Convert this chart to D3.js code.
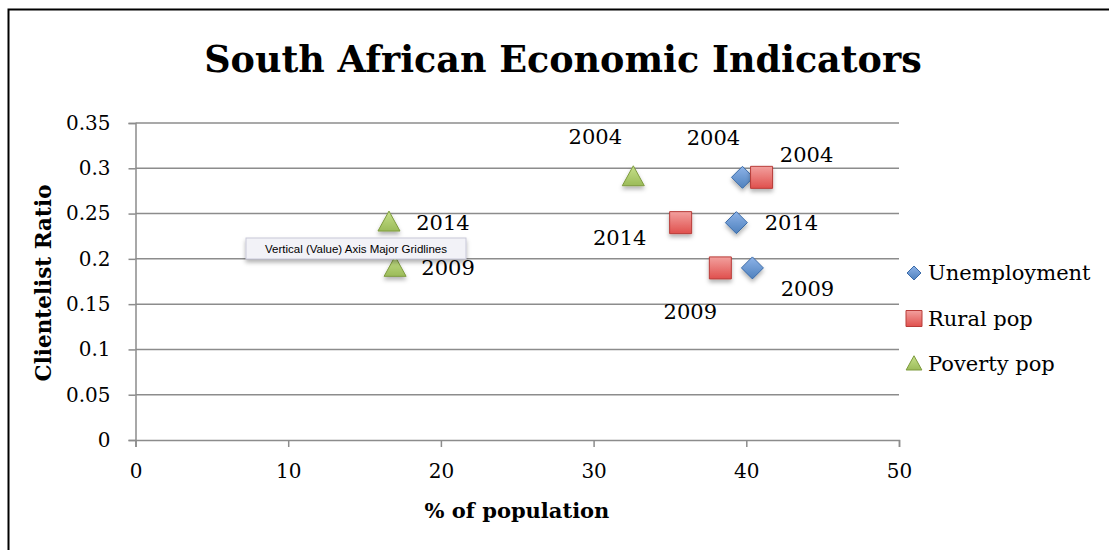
<!DOCTYPE html>
<html>
<head>
<meta charset="utf-8">
<script src="https://cdn.jsdelivr.net/npm/d3@7"></script>
<style>
  body { margin: 0; background: #fff; }
  svg { display: block; font-family: 'DejaVu Serif', serif; }
</style>
</head>
<body>
<div id="chart"></div>
<script>
// data
const years = ['2004', '2014', '2009']
const unemployment = [39.75, 39.35, 40.4]
const ruralPop = [41.0, 35.7, 38.3]
const povertyPop = [32.6, 16.6, 17.0]
const clientelistRatio = [0.29, 0.24, 0.19]
const seriesNames = ['Unemployment', 'Rural pop', 'Poverty pop']
const xTicks = [0, 10, 20, 30, 40, 50]
const yTicks = [0, 0.05, 0.1, 0.15, 0.2, 0.25, 0.3, 0.35]

// where each data label sits relative to its marker (dx, dy)
const labelOffsets = [
  [[-29, -40], [55, 0], [55, 21]],
  [[45, -23], [-61, 15], [-30, 44]],
  [[-38, -41], [54, 0], [53, 0]]
]

const W = 1109, H = 550
const plot = {left: 135.5, right: 899, top: 123, bottom: 440}
const colors = [
  {fill: '#4f81bd', light: '#8db3e8', stroke: '#3a6aa8'},
  {fill: '#e0504d', light: '#f2a09e', stroke: '#b83c39'},
  {fill: '#9bbb59', light: '#c6e08a', stroke: '#7e9b3e'}
]
const shapes = ['diamond', 'square', 'triangle']

const svg = d3.select('#chart').append('svg')
  .attr('width', W).attr('height', H)

const defs = svg.append('defs')
colors.forEach((c, i) => {
  const g = defs.append('linearGradient').attr('id', 'grad' + i)
    .attr('x1', 0).attr('y1', 0).attr('x2', 0).attr('y2', 1)
  g.append('stop').attr('offset', '0%').attr('stop-color', c.light)
  g.append('stop').attr('offset', '100%').attr('stop-color', c.fill)
})
const shadow = defs.append('filter').attr('id', 'shadow')
  .attr('x', '-50%').attr('y', '-50%').attr('width', '200%').attr('height', '200%')
shadow.append('feDropShadow').attr('dx', 0).attr('dy', 3).attr('stdDeviation', 2)
  .attr('flood-color', '#000').attr('flood-opacity', 0.3)

// frame
svg.append('path')
  .attr('d', `M8.5,${H} V9.5 H${W}`)
  .attr('fill', 'none').attr('stroke', '#000').attr('stroke-width', 2)

svg.append('text')
  .attr('x', 563).attr('y', 72)
  .attr('text-anchor', 'middle')
  .attr('font-size', 36.5).attr('font-weight', 'bold')
  .text('South African Economic Indicators')

const x = d3.scaleLinear().domain([0, 50]).range([plot.left, plot.right])
const y = d3.scaleLinear().domain([0, 0.35]).range([plot.bottom, plot.top])

// gridlines
svg.append('g').selectAll('line').data(yTicks.slice(1)).join('line')
  .attr('x1', plot.left).attr('x2', plot.right)
  .attr('y1', d => y(d)).attr('y2', d => y(d))
  .attr('stroke', '#8c8c8c').attr('stroke-width', 1.5)

const yAxis = svg.append('g')
  .attr('transform', `translate(${plot.left},0)`)
  .call(d3.axisLeft(y).tickValues(yTicks).tickFormat(d => String(d)).tickSize(7).tickPadding(18))
const xAxis = svg.append('g')
  .attr('transform', `translate(0,${plot.bottom})`)
  .call(d3.axisBottom(x).tickValues(xTicks).tickSize(7).tickPadding(17))
;[xAxis, yAxis].forEach(a => {
  a.select('.domain').attr('stroke', '#8c8c8c').attr('stroke-width', 1.5)
  a.selectAll('.tick line').attr('stroke', '#8c8c8c').attr('stroke-width', 1.5)
  a.selectAll('text').attr('font-size', 20).attr('font-family', 'DejaVu Serif').attr('fill', '#000')
})

svg.append('text')
  .attr('transform', 'translate(51,283) rotate(-90)')
  .attr('text-anchor', 'middle')
  .attr('font-size', 21.5).attr('font-weight', 'bold')
  .text('Clientelist Ratio')

svg.append('text')
  .attr('x', 517).attr('y', 518)
  .attr('text-anchor', 'middle')
  .attr('font-size', 21).attr('font-weight', 'bold')
  .text('% of population')

function markerPath(shape, s) {
  if (shape === 'diamond') return `M0,${-s} L${s},0 L0,${s} L${-s},0 Z`
  if (shape === 'square') return `M${-s},${-s} H${s} V${s} H${-s} Z`
  return `M0,${-s * 1.1} L${s * 1.05},${s * 0.8} L${-s * 1.05},${s * 0.8} Z`
}
const markerSize = [11, 11, 10.5]
const legendSize = [7, 8, 7.5]

const seriesX = [unemployment, ruralPop, povertyPop]
seriesX.forEach((vals, si) => {
  const pts = vals.map((v, i) => ({x: v, y: clientelistRatio[i], year: years[i], off: labelOffsets[si][i]}))
  const g = svg.append('g')
  g.selectAll('path').data(pts).join('path')
    .attr('transform', d => `translate(${x(d.x)},${y(d.y)})`)
    .attr('d', markerPath(shapes[si], markerSize[si]))
    .attr('fill', `url(#grad${si})`)
    .attr('stroke', colors[si].stroke).attr('stroke-width', 1)
    .attr('filter', 'url(#shadow)')
  g.selectAll('text').data(pts).join('text')
    .attr('x', d => x(d.x) + d.off[0])
    .attr('y', d => y(d.y) + d.off[1])
    .attr('dy', '0.35em')
    .attr('text-anchor', 'middle')
    .attr('font-size', 21)
    .text(d => d.year)
})

// legend
const legend = svg.append('g').attr('transform', 'translate(914,273)')
seriesNames.forEach((name, i) => {
  const row = legend.append('g').attr('transform', `translate(0,${i * 45.5})`)
  row.append('path')
    .attr('d', markerPath(shapes[i], legendSize[i]))
    .attr('fill', `url(#grad${i})`)
    .attr('stroke', colors[i].stroke).attr('stroke-width', 1)
  row.append('text')
    .attr('x', 14).attr('dy', '0.35em')
    .attr('font-size', 21)
    .text(name)
})

// hover tooltip captured in the screenshot
const tip = svg.append('g').attr('transform', 'translate(246,238)')
tip.append('rect')
  .attr('width', 220).attr('height', 21)
  .attr('fill', '#f2f2f7').attr('stroke', '#c8c8d8')
  .attr('filter', 'url(#shadow)')
tip.append('text')
  .attr('x', 110).attr('y', 14.5)
  .attr('text-anchor', 'middle')
  .attr('font-family', 'Liberation Sans, Arial, sans-serif')
  .attr('font-size', 11.5)
  .text('Vertical (Value) Axis Major Gridlines')
</script>
</body>
</html>
